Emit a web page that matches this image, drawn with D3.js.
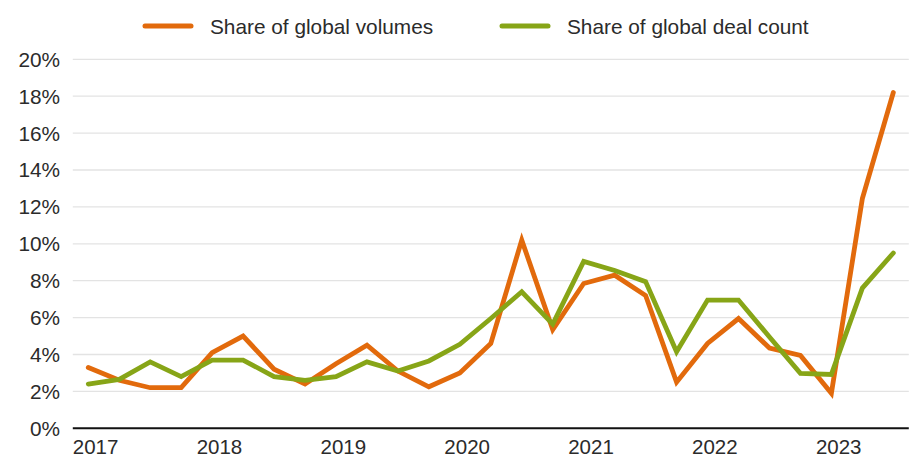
<!DOCTYPE html>
<html>
<head>
<meta charset="utf-8">
<script src="https://cdn.jsdelivr.net/npm/d3@7/dist/d3.min.js"></script>
<style>
  html, body { margin: 0; padding: 0; background: #fff; }
  svg { display: block; }
  text { font-family: "Liberation Sans", Arial, sans-serif; fill: #2b2b2b; }
</style>
</head>
<body>
<svg id="chart" width="915" height="459"></svg>
<script>
const quarters = [
  "2017Q1","2017Q2","2017Q3","2017Q4",
  "2018Q1","2018Q2","2018Q3","2018Q4",
  "2019Q1","2019Q2","2019Q3","2019Q4",
  "2020Q1","2020Q2","2020Q3","2020Q4",
  "2021Q1","2021Q2","2021Q3","2021Q4",
  "2022Q1","2022Q2","2022Q3","2022Q4",
  "2023Q1","2023Q2","2023Q3"
];
const shareVolumes = [
  3.3, 2.6, 2.2, 2.2,
  4.1, 5.0, 3.2, 2.4,
  3.5, 4.5, 3.1, 2.25,
  3.0, 4.6, 10.2, 5.35,
  7.85, 8.3, 7.2, 2.5,
  4.6, 5.95, 4.35, 3.95,
  1.9, 12.45, 18.2
];
const shareDealCount = [
  2.4, 2.65, 3.6, 2.8,
  3.7, 3.7, 2.8, 2.6,
  2.8, 3.6, 3.1, 3.65,
  4.55, 5.95, 7.4, 5.65,
  9.05, 8.55, 7.95, 4.15,
  6.95, 6.95, 4.95, 2.98,
  2.92, 7.6, 9.5
];
const yearLabels = ["2017","2018","2019","2020","2021","2022","2023"];
const yTicks = [0, 2, 4, 6, 8, 10, 12, 14, 16, 18, 20];
const seriesNames = ["Share of global volumes", "Share of global deal count"];
const seriesColors = ["#E26A0C", "#87A517"];

(function () {
const svg = d3.select("#chart");
const mLeft = 72.8, mRight = 908.8, mTop = 59.3, mBottom = 428.3;

const x = d3.scaleBand().domain(quarters).range([mLeft, mRight]);
const y = d3.scaleLinear().domain([0, 20]).range([mBottom, mTop]);

// gridlines
svg.append("g").selectAll("line").data(yTicks.filter(d => d > 0)).join("line")
  .attr("x1", mLeft).attr("x2", mRight)
  .attr("y1", d => y(d)).attr("y2", d => y(d))
  .attr("stroke", "#e3e3e3").attr("stroke-width", 1.3);

// y labels
svg.append("g").selectAll("text").data(yTicks).join("text")
  .attr("x", 60).attr("y", d => y(d))
  .attr("dy", "0.36em")
  .attr("text-anchor", "end")
  .attr("font-size", 20.8)
  .text(d => d + "%");

// x axis line
svg.append("line")
  .attr("x1", mLeft).attr("x2", mRight)
  .attr("y1", mBottom).attr("y2", mBottom)
  .attr("stroke", "#111").attr("stroke-width", 2);

// x labels at start of each year
svg.append("g").selectAll("text").data(yearLabels).join("text")
  .attr("x", d => x(d + "Q1"))
  .attr("y", 454)
  .attr("text-anchor", "start")
  .attr("font-size", 20.5)
  .text(d => d);

const line = d3.line()
  .x((d, i) => x(quarters[i]) + x.bandwidth() / 2)
  .y(d => y(d));

[shareVolumes, shareDealCount].forEach((vals, k) => {
  svg.append("path")
    .datum(vals)
    .attr("fill", "none")
    .attr("stroke", seriesColors[k])
    .attr("stroke-width", 4.8)
    .attr("stroke-linejoin", "miter")
    .attr("stroke-linecap", "round")
    .attr("d", line);
});

// legend
const legendX = [143, 500];
seriesNames.forEach((name, k) => {
  const g = svg.append("g").attr("transform", `translate(${legendX[k]},26)`);
  g.append("line").attr("x1", 2).attr("x2", 48).attr("y1", 0).attr("y2", 0)
    .attr("stroke", seriesColors[k]).attr("stroke-width", 5).attr("stroke-linecap", "round");
  g.append("text").attr("x", 67).attr("y", 0).attr("dy", "0.36em")
    .attr("font-size", 20.8).text(name);
});
})();
</script>
</body>
</html>
